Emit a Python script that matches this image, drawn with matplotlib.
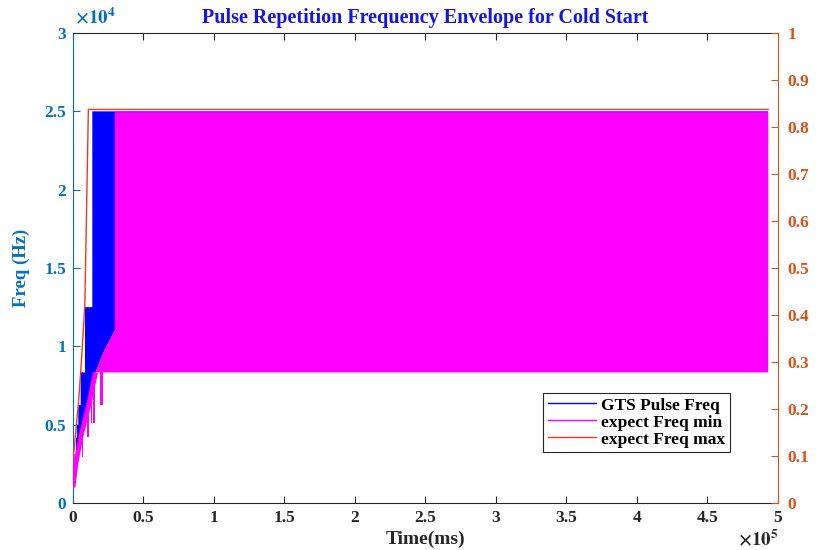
import numpy as np
import matplotlib.pyplot as plt
from matplotlib.lines import Line2D

plt.rcParams['font.family'] = ['Liberation Serif', 'DejaVu Serif']
plt.rcParams['font.weight'] = 'bold'
plt.rcParams['mathtext.fontset'] = 'stix'

# GTS pulse freq: staircase upper envelope (ms, Hz)
stair_x = [0, 400, 1100, 2100, 2800, 3750, 5450, 8500, 13700]
stair_y = [2083, 2500, 3125, 4167, 5000, 6250, 8333, 12500, 25000]
end_x = 493000

# expect Freq min: lower curve at start, then dense band
min_x = [0, 2000, 6000, 11000, 16000, 22000, 29600]
min_y = [1000, 2500, 4400, 6200, 8333, 9700, 11000]
band_x = [29600, 493000]
band_lo = 8333
band_hi = 24950

# downward spikes of the min curve
spike_l = [6200, 9700, 12700, 14400, 19100]
spike_r = [7400, 11300, 13700, 15800, 21500]
spike_lo = [2950, 4230, 5100, 5100, 6250]

# expect Freq max
max_x = [0, 3750, 5450, 8400, 10900, 493000]
max_y = [2700, 6250, 8350, 12600, 25120, 25120]

xticks = [0, 50000, 100000, 150000, 200000, 250000, 300000, 350000, 400000, 450000, 500000]
xlabels = ['0', '0.5', '1', '1.5', '2', '2.5', '3', '3.5', '4', '4.5', '5']
yticks = [0, 5000, 10000, 15000, 20000, 25000, 30000]
ylabels = ['0', '0.5', '1', '1.5', '2', '2.5', '3']
rticks = [0, 0.1, 0.2, 0.3, 0.4, 0.5, 0.6, 0.7, 0.8, 0.9, 1]
rlabels = ['0', '0.1', '0.2', '0.3', '0.4', '0.5', '0.6', '0.7', '0.8', '0.9', '1']

lcol = '#0072BD'
rcol = '#D95319'
mag = '#FF00FF'
blue = '#0000FF'
red = '#F03A1E'

fig = plt.figure(figsize=(8.2, 5.5), dpi=100)
ax = fig.add_axes([73 / 820, 47 / 550, 705 / 820, 470 / 550])

# spikes (under the blue area)
ax.bar(spike_l, [band_lo - b for b in spike_lo],
       width=[r - l for l, r in zip(spike_l, spike_r)],
       bottom=spike_lo, align='edge', color=mag, linewidth=0, zorder=1)

# blue area between staircase and min curve
sx = np.repeat(stair_x + [end_x], 2)[1:-1]
sy = np.repeat(stair_y, 2)
px = np.concatenate([sx, [end_x], min_x[::-1]])
py = np.concatenate([sy, [min_y[-1]], min_y[::-1]])
ax.fill(px, py, color=blue, linewidth=0, zorder=2)

# magenta band
mx = min_x[4:] + [band_x[0], band_x[1], band_x[1]]
my = min_y[4:] + [band_hi, band_hi, band_lo]
ax.fill(mx, my, color=mag, linewidth=0, zorder=3)
ax.plot(min_x[:5], min_y[:5], color=mag, lw=3.5, zorder=3, solid_capstyle='butt')

ax.plot(max_x, max_y, color=red, lw=1, zorder=4)

ax.set_xlim(0, 500000)
ax.set_ylim(0, 30000)
ax.set_xticks(xticks)
ax.set_xticklabels(xlabels)
ax.set_yticks(yticks)
ax.set_yticklabels(ylabels)
ax.tick_params(axis='x', direction='in', length=5, top=True, labelsize=12.5,
               colors='#262626', pad=5)
ax.tick_params(axis='y', direction='in', length=5, labelsize=12.5,
               colors=lcol, pad=5)
ax.spines['left'].set_color(lcol)
ax.spines['top'].set_color('#262626')
ax.spines['bottom'].set_color('#262626')
ax.spines['right'].set_visible(False)

ax2 = ax.twinx()
ax2.set_ylim(0, 1)
ax2.set_yticks(rticks)
ax2.set_yticklabels(rlabels)
ax2.tick_params(axis='y', direction='in', length=5, labelsize=12.5,
                colors=rcol, pad=7)
for s in ['left', 'top', 'bottom']:
    ax2.spines[s].set_visible(False)
ax2.spines['right'].set_color(rcol)

ax.set_title('Pulse Repetition Frequency Envelope for Cold Start',
             color='#1414E6', fontsize=14.5, fontweight='bold', pad=7)
ax.set_ylabel('Freq (Hz)', color=lcol, fontsize=13.5, fontweight='bold')
ax.yaxis.set_label_coords(-0.061, 0.5)
ax.set_xlabel('Time(ms)', color='#262626', fontsize=14, fontweight='bold')
ax.xaxis.set_label_coords(0.5, -0.077)
ax.xaxis.label.set_va('center')

ax.text(0.003, 1.012, r'$\times10^{4}$', transform=ax.transAxes, color=lcol,
        fontsize=13.5, ha='left', va='bottom')
ax.text(1.0, -0.055, r'$\times10^{5}$', transform=ax.transAxes, color='#262626',
        fontsize=13.5, ha='right', va='top')

handles = [Line2D([], [], color=blue, lw=1),
           Line2D([], [], color=mag, lw=1),
           Line2D([], [], color=red, lw=1)]
leg = ax.legend(handles, ['GTS Pulse Freq', 'expect Freq min', 'expect Freq max'],
                loc='upper left', bbox_to_anchor=(0.667, 0.234), borderaxespad=0,
                fancybox=False, framealpha=1, edgecolor='#262626',
                prop={'size': 12.5, 'weight': 'bold'}, handlelength=2.8,
                handletextpad=0.3, labelspacing=0.05, borderpad=0.25)
leg.get_frame().set_linewidth(0.8)
leg.set_zorder(10)

fig.savefig('out.png', dpi=100)
